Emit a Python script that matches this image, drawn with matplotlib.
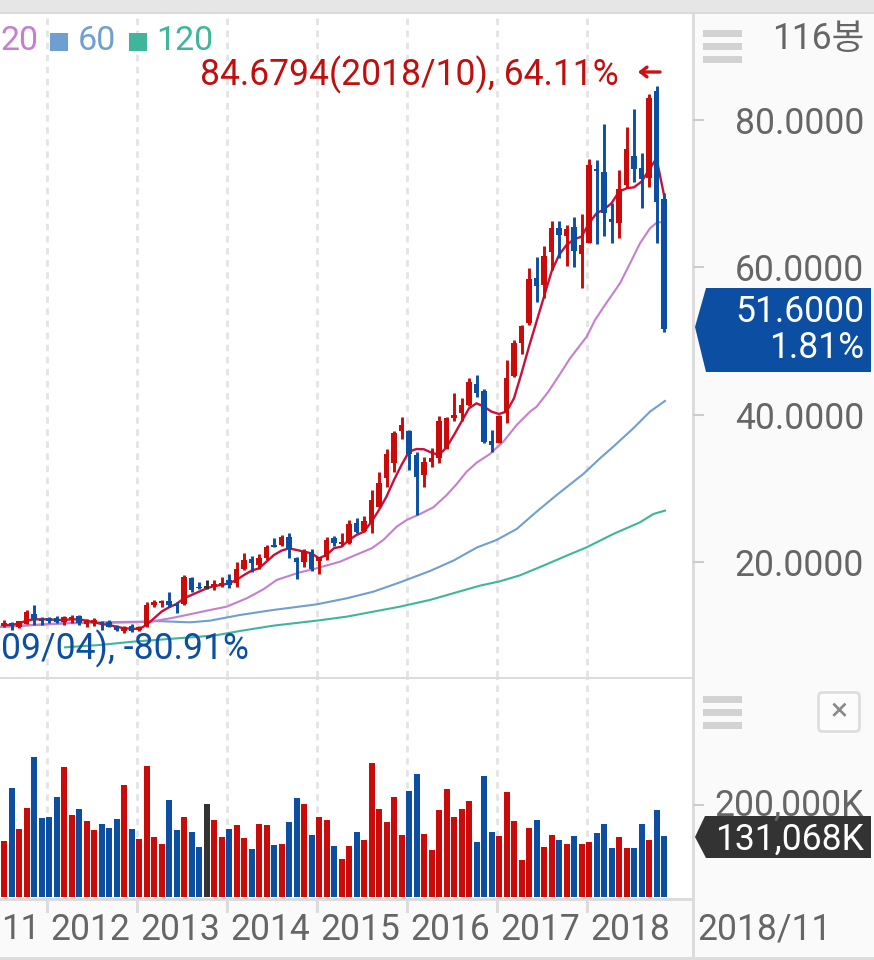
import numpy as np
import matplotlib
matplotlib.use("Agg")
import matplotlib.pyplot as plt
from matplotlib.patches import Polygon, Rectangle, FancyBboxPatch
from matplotlib.transforms import blended_transform_factory

plt.rcParams["font.family"] = ["Roboto", "Noto Sans CJK KR", "DejaVu Sans"]

# monthly candles, 2011/07 .. 2018/11
opens = [11.34, 11.80, 11.25, 11.57, 12.97, 12.25, 12.38, 12.38, 11.93, 12.25, 12.70, 11.57, 11.71, 11.80, 11.93,
         11.21, 10.67, 11.34, 10.80, 11.34, 14.19, 14.51, 14.78, 14.28, 14.33, 17.81, 16.68, 16.55, 16.68, 16.77,
         17.59, 17.13, 19.08, 20.39, 19.62, 20.53, 22.33, 22.33, 23.37, 20.53, 20.07, 21.43, 20.21, 20.66, 23.24,
         22.43, 22.65, 25.37, 24.28, 25.28, 27.54, 31.38, 33.51, 37.85, 37.85, 34.55, 31.84, 33.64, 34.10, 35.45,
         39.52, 40.29, 41.33, 44.18, 43.28, 36.45, 36.22, 40.20, 45.27, 49.79, 52.41, 58.52, 57.61, 62.14, 65.39,
         64.31, 65.44, 61.82, 63.36, 73.31, 72.90, 66.57, 66.07, 71.18, 75.12, 73.44, 72.09, 83.94, 69.24]
highs = [12.16, 11.93, 12.07, 13.52, 14.19, 12.52, 12.52, 12.70, 12.75, 12.79, 12.84, 12.29, 12.38, 12.07, 12.16,
         11.48, 11.39, 11.62, 11.34, 14.56, 14.92, 14.87, 15.96, 14.65, 18.31, 18.04, 17.36, 17.59, 17.59, 18.04,
         18.35, 19.98, 21.29, 20.84, 21.11, 22.29, 23.24, 23.69, 24.01, 20.66, 21.75, 21.75, 20.75, 23.47, 23.56,
         23.92, 25.73, 25.96, 26.27, 29.80, 32.29, 35.32, 37.85, 39.75, 37.94, 35.00, 34.32, 35.45, 39.84, 39.75,
         42.92, 42.24, 44.95, 45.40, 43.46, 37.94, 39.98, 47.44, 50.15, 52.14, 59.87, 61.37, 62.95, 66.34, 66.30,
         65.75, 66.80, 67.20, 74.71, 74.58, 79.41, 68.79, 73.22, 79.01, 81.45, 75.57, 83.53, 84.68, 70.05]
lows = [11.16, 10.80, 11.03, 11.57, 11.48, 11.48, 11.71, 11.71, 11.48, 11.80, 11.52, 11.25, 11.34, 10.80, 11.16,
        10.67, 10.35, 10.53, 10.67, 11.25, 13.88, 13.88, 13.97, 13.15, 14.19, 15.96, 16.36, 16.32, 16.23, 16.59,
        16.45, 16.59, 18.94, 18.72, 19.03, 20.30, 22.11, 22.20, 20.53, 17.68, 19.39, 18.85, 18.40, 20.30, 22.20,
        22.20, 22.47, 24.01, 24.15, 23.92, 27.45, 30.16, 32.29, 36.68, 32.51, 26.41, 30.25, 32.97, 33.51, 35.32,
        39.21, 39.21, 41.20, 42.46, 36.22, 35.00, 36.13, 38.85, 45.09, 48.25, 52.23, 55.35, 55.81, 59.65, 61.23,
        60.24, 60.01, 57.16, 63.27, 63.18, 64.31, 63.36, 63.95, 70.73, 71.64, 68.11, 70.87, 63.27, 51.28]
closes = [11.80, 11.34, 12.07, 13.29, 12.25, 12.07, 12.07, 11.93, 12.61, 12.61, 11.71, 12.16, 12.16, 11.71, 11.25,
          10.80, 11.25, 10.67, 11.25, 14.19, 14.65, 14.78, 14.19, 14.06, 17.95, 16.23, 16.45, 16.55, 17.00, 17.13,
          16.91, 19.08, 20.30, 19.85, 20.53, 22.11, 22.11, 23.47, 21.75, 20.07, 21.57, 19.03, 20.66, 23.01, 22.56,
          22.79, 25.19, 24.15, 25.64, 28.44, 30.70, 34.69, 37.58, 38.62, 34.64, 31.61, 33.64, 34.10, 39.20, 39.52,
          39.98, 41.33, 44.50, 43.00, 36.36, 35.90, 39.84, 44.95, 49.70, 52.05, 58.38, 57.48, 61.59, 65.28, 64.40,
          65.21, 62.27, 63.04, 73.90, 73.04, 67.34, 66.21, 70.64, 76.07, 73.31, 71.95, 82.94, 68.92, 51.60]

# volume in K shares, one per candle
volumes = [120000, 235000, 145500, 192000, 302000, 169000, 173000, 215000, 280000, 176000, 190000, 164000, 143000,
           158000, 148000, 167000, 240000, 147000, 124000, 282000, 128000, 113000, 209000, 145000, 172000, 140000,
           107500, 201000, 166000, 128000, 147000, 154000, 126000, 104000, 158000, 154000, 111000, 113000, 162000,
           212000, 201000, 133000, 172000, 166000, 110000, 82000, 109000, 140000, 123000, 288000, 190000, 161000,
           214000, 133000, 228000, 265000, 136000, 100000, 186000, 233000, 173000, 190000, 206000, 119000, 261000,
           139000, 131000, 225000, 163000, 80000, 148000, 165000, 107500, 133000, 122000, 115000, 132000, 113000,
           119000, 137000, 158000, 106000, 130000, 105000, 106000, 156000, 122000, 187000, 131068]

ma5 = [11.48, 11.48, 11.70, 12.07, 12.25, 12.25, 12.25, 12.16, 12.16, 12.25, 12.25, 12.07, 11.84, 11.62, 11.48,
       11.25, 11.03, 10.98, 10.94, 11.48, 12.38, 13.29, 13.88, 14.33, 15.10, 15.55, 16.00, 16.45, 16.77, 16.91,
       17.13, 17.59, 18.26, 18.85, 19.17, 20.07, 20.98, 21.57, 21.88, 21.66, 21.43, 21.20, 20.53, 20.98, 21.90,
       22.11, 23.02, 23.69, 24.15, 25.50, 27.09, 28.90, 31.16, 33.19, 35.00, 35.36, 35.32, 34.87, 34.55, 35.59,
       37.26, 39.07, 40.88, 41.56, 41.11, 40.43, 40.11, 40.43, 42.24, 45.63, 49.25, 52.64, 56.03, 59.42, 61.68,
       63.04, 63.81, 64.17, 65.98, 67.34, 67.88, 68.70, 70.28, 70.73, 70.87, 71.64, 73.22, 74.80, 69.83]

ma20_t = [-6.5, 2.4, 11.2, 13.5, 16.13, 18.36, 21.02, 23.69, 26.36, 28.58, 30.36, 31.69, 33.47, 35.69, 38.8, 40.14,
          43.03, 44.58, 46.36, 47.69, 49.47, 51.25, 53.03, 54.36, 55.69, 57.03, 58.8, 60.58, 62.36, 64.14, 65.02,
          66.58, 67.91, 69.47, 71.69, 72.8, 74.13, 76.13, 77.47, 78.8, 80.13, 81.02, 82.27]
ma20 = [11.25, 11.71, 11.84, 11.93, 12.38, 12.84, 13.42, 13.97, 15.10, 16.32, 17.59, 18.04, 18.63, 19.17, 20.07,
        20.66, 21.89, 23.02, 24.82, 25.73, 26.54, 27.45, 29.12, 30.61, 32.29, 33.51, 34.69, 36.36, 38.62, 40.43,
        41.10, 43.14, 45.18, 47.66, 50.60, 52.86, 54.90, 57.84, 60.55, 63.27, 65.30, 66.07, 66.21]

ma60_t = [-6.5, 2.4, 12.13, 14.8, 18.8, 21.47, 25.47, 29.91, 35.69, 39.69, 43.24, 46.8, 50.8, 53.91, 57.02, 59.69,
          62.36, 65.02, 67.69, 71.24, 73.47, 75.24, 77.91, 80.13, 82.13]
ma60 = [11.20, 11.75, 11.93, 12.00, 11.84, 12.07, 12.84, 13.52, 14.28, 15.10, 16.00, 17.27, 18.81, 20.21, 21.98,
        23.02, 24.51, 26.86, 29.12, 31.97, 34.10, 35.68, 38.17, 40.43, 41.88]

ma120_t = [2.13, 6.8, 11.24, 20.13, 22.36, 25.47, 29.91, 35.69, 39.69, 43.24, 46.8, 50.8, 54.36, 57.47, 60.13, 62.8,
           65.91, 69.02, 71.69, 75.24, 78.8, 80.58, 82.13]
ma120 = [8.45, 8.77, 9.22, 9.90, 10.10, 10.67, 11.39, 12.07, 12.61, 13.29, 13.97, 14.88, 15.92, 16.82, 17.41, 18.22,
         19.53, 20.89, 22.02, 23.83, 25.41, 26.54, 27.00]

price_ticks = [20, 40, 60, 80]
years = [2012, 2013, 2014, 2015, 2016, 2017, 2018]

RED = "#cb0a0a"
BLUE = "#0b4ea2"
DARK = "#333333"
GRID = "#e4e4e4"
LABEL = "#666666"
MA_COLORS = ["#c8103c", "#c57fd0", "#6f9fd0", "#3fb59b"]
FONT = 25.6

W, H = 874, 960
XLIM = (-49 / 7.5, (693 - 49) / 7.5)


def px_axes(left, top, right, bottom):
    return [left / W, 1 - bottom / H, (right - left) / W, (bottom - top) / H]


x = np.arange(len(closes)) - 6
o, c = np.array(opens), np.array(closes)
colors = [RED if b > a else BLUE if b < a else DARK for a, b in zip(opens, closes)]
grid_x = [(y - 2012) * 12 - 0.27 for y in years]
grid_style = dict(color=GRID, lw=2.0, linestyles=(0, (2.35, 2.0)), zorder=1)

fig = plt.figure(figsize=(W / 100, H / 100), dpi=100, facecolor="white")

# price panel
ax = fig.add_axes(px_axes(0, 13, 693, 677))
ax.set_xlim(*XLIM)
ax.set_ylim((709.6 - 677) / 7.37, (709.6 - 13) / 7.37)
ax.axis("off")
ax.vlines(grid_x, *ax.get_ylim(), **grid_style)
ax.plot(x, ma5, color=MA_COLORS[0], lw=1.7, zorder=3)
ax.plot(ma20_t, ma20, color=MA_COLORS[1], lw=1.5, zorder=2.8)
ax.plot(ma60_t, ma60, color=MA_COLORS[2], lw=1.5, zorder=2.6)
ax.plot(ma120_t, ma120, color=MA_COLORS[3], lw=1.5, zorder=2.4)
ax.vlines(x, lows, highs, color=colors, lw=2.1, zorder=4)
ax.bar(x, np.maximum(np.abs(c - o), 0.2), bottom=np.minimum(o, c), width=0.78, color=colors, zorder=5)

# volume panel
ax_vol = fig.add_axes(px_axes(0, 678, 693, 897))
ax_vol.set_xlim(*XLIM)
ax_vol.set_ylim(0, 219 * 2150)
ax_vol.axis("off")
ax_vol.vlines(grid_x, *ax_vol.get_ylim(), **grid_style)
ax_vol.bar(x, volumes, width=0.8, color=colors, zorder=3)

# everything around the plots, in pixel coordinates
ov = fig.add_axes([0, 0, 1, 1], zorder=10)
ov.set_xlim(0, W)
ov.set_ylim(H, 0)
ov.axis("off")
ov.patch.set_alpha(0)
ov.add_patch(Rectangle((0, 0), W, 13, color="#e6e6e6", lw=0))
ov.add_patch(Rectangle((0, 12), W, 2, color="#dadada", lw=0))
ov.add_patch(Rectangle((694, 14), W - 694, H - 14, color="#fafafa", lw=0))
ov.add_patch(Rectangle((0, 899), 694, H - 899, color="#fafafa", lw=0))
ov.add_patch(Rectangle((692, 14), 2.5, H - 14, color="#dcdcdc", lw=0))
ov.add_patch(Rectangle((0, 676.5), 693, 2, color="#dcdcdc", lw=0))
ov.add_patch(Rectangle((0, 898), 693, 3, color="#dcdcdc", lw=0))
ov.add_patch(Rectangle((0, 957), W, 3, color="#dcdcdc", lw=0))

trans_x = blended_transform_factory(ax_vol.transData, ov.transData)
for gx in grid_x:
    ov.plot([gx, gx], [901, 911], color="#dcdcdc", lw=2.2, transform=trans_x)

# right axis
trans_y = blended_transform_factory(ov.transData, ax.transData)
for p in price_ticks:
    ov.plot([694, 703], [p, p], color="#cccccc", lw=1.5, transform=trans_y)
    ov.text(864, p, f"{p:.4f}", transform=trans_y, ha="right", va="center_baseline", fontsize=FONT, color=LABEL)
ov.plot([694, 703], [805, 805], color="#cccccc", lw=1.5)
ov.text(864, 802, "200,000K", ha="right", va="center_baseline", fontsize=FONT, color=LABEL)
ov.text(864, 35, "116봉", ha="right", va="center_baseline", fontsize=FONT, color=LABEL)

for tops in ([30, 43, 56], [696, 709, 722]):
    for t in tops:
        ov.add_patch(Rectangle((703, t), 39, 7, color="#d2d2d2", lw=0))

ov.add_patch(FancyBboxPatch((821, 695), 36, 34, boxstyle="round,pad=2.5,rounding_size=4",
                            fc="#fcfcfc", ec="#dddddd", lw=2))
ov.text(839, 712, "×", ha="center", va="center", fontsize=23, color="#8a8a8a")

# price and volume tags
ov.add_patch(Polygon([(695, 327), (706, 288), (871, 288), (871, 372), (706, 372)], color=BLUE, lw=0))
ov.text(864, 308, "51.6000", ha="right", va="center_baseline", fontsize=FONT, color="white")
ov.text(864, 344, "1.81%", ha="right", va="center_baseline", fontsize=FONT, color="white")
ov.add_patch(Polygon([(695, 837), (705, 816), (871, 816), (871, 858), (706, 858)], color=DARK, lw=0))
ov.text(864, 836, "131,068K", ha="right", va="center_baseline", fontsize=FONT, color="white")

# year labels sit in the middle of each year
ov.text(40, 926, "11", ha="right", va="center_baseline", fontsize=25, color=LABEL)
for y, gx in zip(years, grid_x):
    ov.text(gx + 5.75, 926, str(y), transform=trans_x, ha="center", va="center_baseline", fontsize=FONT, color=LABEL)
ov.text(697, 926, "2018/11", ha="left", va="center_baseline", fontsize=FONT, color=LABEL)

# moving average legend
ov.text(38, 38, "20", ha="right", va="center_baseline", fontsize=24.5, color=MA_COLORS[1])
ov.add_patch(Rectangle((50, 33), 18, 18, color=MA_COLORS[2], lw=0))
ov.text(78, 38, "60", ha="left", va="center_baseline", fontsize=24.5, color=MA_COLORS[2])
ov.add_patch(Rectangle((129, 33), 18, 18, color=MA_COLORS[3], lw=0))
ov.text(156, 38, "120", ha="left", va="center_baseline", fontsize=24.5, color=MA_COLORS[3])

# high / low notes
ov.text(200, 71, "84.6794(2018/10), 64.11%", ha="left", va="center_baseline", fontsize=FONT, color="#bf0f0f")
ov.annotate("", xy=(638, 72), xytext=(660, 72),
            arrowprops=dict(arrowstyle="->,head_width=0.35,head_length=0.45", color="#cc1111", lw=2.4,
                            shrinkA=0, shrinkB=0))
ov.text(1, 645, "09/04), -80.91%", ha="left", va="center_baseline", fontsize=FONT, color=BLUE)

fig.savefig("out.png", dpi=100)
plt.close(fig)
